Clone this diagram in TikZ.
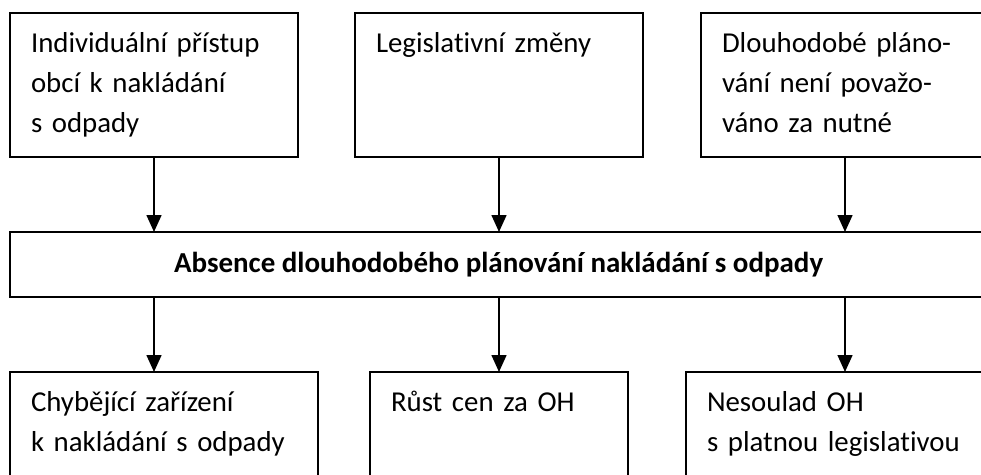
\documentclass[tikz,border=0pt]{standalone}
\usepackage{fontspec}
\setmainfont{Carlito}[Ligatures=NoCommon]
\usetikzlibrary{positioning,arrows.meta}

\begin{document}
\begin{tikzpicture}[
  box/.style={
    draw, line width=1.1pt, anchor=north west, outer sep=0pt,
    text width=#1, align=left,
    inner xsep=0.525cm, inner ysep=0pt,
    text height=1cm, text depth=2.6cm,
    font=\fontsize{20.5pt}{28.4pt}\selectfont
  },
  mainbox/.style={
    draw, line width=1.1pt, anchor=north west, outer sep=0pt,
    minimum width=24.425cm, minimum height=1.625cm, inner sep=0pt,
    font=\fontsize{20.6pt}{28.4pt}\selectfont\bfseries
  },
  arrow/.style={-{Triangle[length=12pt, width=10.5pt]}, line width=1.4pt}
]

\useasboundingbox (0,0) rectangle (24.525,-11.875);
\clip (0,0) rectangle (24.525,-11.875);

% --- Příčiny ---
\node[box=6.15cm] (ind) at (0.25,-0.325) {Individuální přístup\\obcí k nakládání\\s odpady};
\node[box=6.15cm, right=1.425cm of ind] (leg) {Legislativní změny};
\node[box=6.15cm, right=1.45cm of leg] (dlou) {Dlouhodobé pláno-\\vání není považo-\\váno za nutné};

% --- Hlavní problém ---
\node[mainbox, below right=1.875cm and 0cm of ind.south west] (absence)
  {Absence dlouhodobého plánování nakládání s odpady};

% --- Důsledky ---
\node[box=6.65cm, below right=1.875cm and 0cm of absence.south west] (chyb)
  {Chybějící zařízení\\k nakládání s odpady};
\node[box=5.4cm, right=1.3cm of chyb] (rust) {Růst cen za OH};
\node[box=6.65cm, right=1.45cm of rust] (nesoulad) {Nesoulad OH\\s platnou legislativou};

% --- Šipky ---
\draw[arrow] (ind.south) -- (absence.north -| ind.south);
\draw[arrow] (leg.south) -- (absence.north -| leg.south);
\draw[arrow] (dlou.south) -- (absence.north -| dlou.south);

\draw[arrow] (absence.south -| ind.south) -- (chyb.north -| ind.south);
\draw[arrow] (absence.south -| leg.south) -- (rust.north -| leg.south);
\draw[arrow] (absence.south -| dlou.south) -- (nesoulad.north -| dlou.south);

\end{tikzpicture}
\end{document}
